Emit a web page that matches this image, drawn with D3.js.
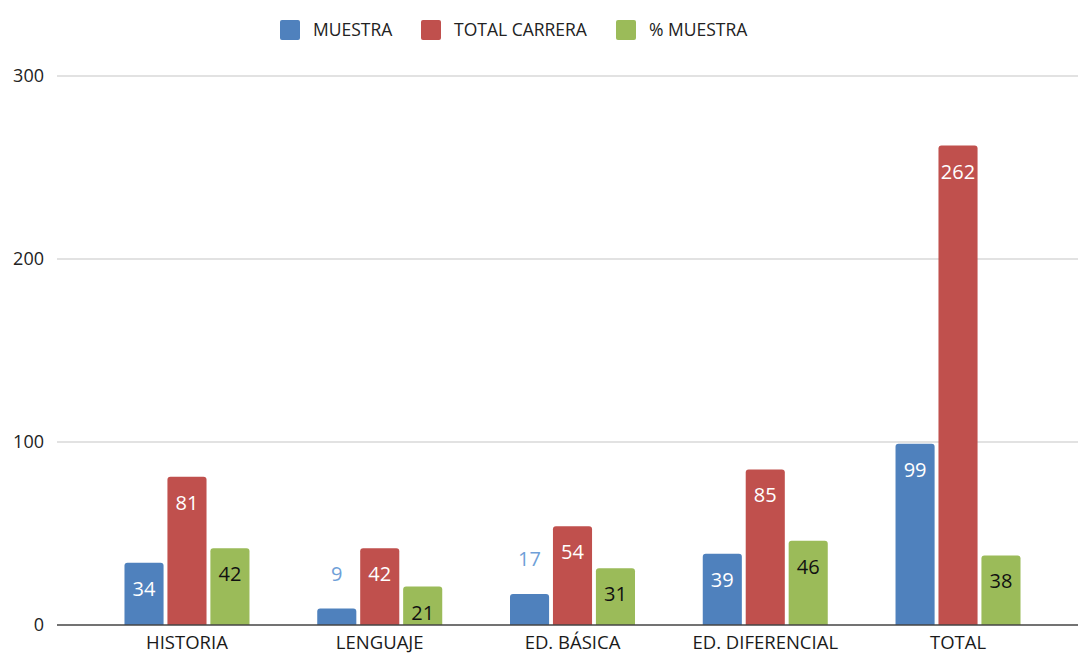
<!DOCTYPE html>
<html><head><meta charset="utf-8">
<script src="https://cdn.jsdelivr.net/npm/d3@7"></script>
<style>body{margin:0;background:#fff;}svg{display:block;font-family:"Open Sans",sans-serif;}</style>
</head><body><svg id="c" width="1078" height="655"></svg>
<script>
const categories = ["HISTORIA","LENGUAJE","ED. BÁSICA","ED. DIFERENCIAL","TOTAL"];
const seriesNames = ["MUESTRA","TOTAL CARRERA","% MUESTRA"];
const muestra = [34, 9, 17, 39, 99];
const totalCarrera = [81, 42, 54, 85, 262];
const pctMuestra = [42, 21, 31, 46, 38];
const yTicks = [0, 100, 200, 300];
const colors = ["#4f81bd", "#c0504d", "#9bbb59"];
const labelColors = ["#ffffff", "#ffffff", "#111111"];

const series = [muestra, totalCarrera, pctMuestra];
const svg = d3.select("#c");
const y = d3.scaleLinear().domain([0, 300]).range([625, 76]);
const x0 = d3.scaleBand().domain(categories).range([90.6, 1054.4]).padding(0);
const groupW = 125;
const x1 = d3.scaleBand().domain(d3.range(3))
  .range([(x0.step() - groupW) / 2, (x0.step() + groupW) / 2]).paddingInner(0.09);

// gridlines
const g = svg.append("g");
g.selectAll("line.grid").data(yTicks.filter(d => d > 0)).join("line")
  .attr("x1", 57).attr("x2", 1078)
  .attr("y1", d => y(d)).attr("y2", d => y(d))
  .attr("stroke", "#d9d9d9").attr("stroke-width", 1.5);
g.selectAll("text.yt").data(yTicks).join("text")
  .attr("x", 44).attr("y", d => y(d)).attr("dy", "0.35em")
  .attr("text-anchor", "end").attr("font-size", 18).attr("fill", "#222")
  .text(d => d);

// bars
const radius = 3;
function barPath(x, yTop, w, yBot) {
  const r = Math.min(radius, (yBot - yTop));
  return `M${x},${yBot}V${yTop + r}Q${x},${yTop} ${x + r},${yTop}H${x + w - r}Q${x + w},${yTop} ${x + w},${yTop + r}V${yBot}Z`;
}
const data = [];
categories.forEach((c, i) => series.forEach((s, j) => data.push({c, j, v: s[i]})));
svg.append("g").selectAll("path").data(data).join("path")
  .attr("d", d => barPath(x0(d.c) + x1(d.j), y(d.v), x1.bandwidth(), y(0)))
  .attr("fill", d => colors[d.j]);

// value labels
const inside = d => (y(0) - y(d.v)) >= 35;
svg.append("g").selectAll("text").data(data).join("text")
  .attr("x", d => x0(d.c) + x1(d.j) + x1.bandwidth() / 2)
  .attr("y", d => inside(d) ? y(d.v) + 26 : y(d.v) - 35)
  .attr("dy", "0.35em")
  .attr("text-anchor", "middle").attr("font-size", 20)
  .attr("fill", d => inside(d) ? labelColors[d.j] : "#6f9fd8")
  .text(d => d.v);

// axis baseline
svg.append("line").attr("x1", 57).attr("x2", 1078).attr("y1", y(0)).attr("y2", y(0))
  .attr("stroke", "#444").attr("stroke-width", 1.5);

// x labels
svg.append("g").selectAll("text").data(categories).join("text")
  .attr("x", d => x0(d) + x0.bandwidth() / 2).attr("y", 649)
  .attr("text-anchor", "middle").attr("font-size", 18.5).attr("fill", "#1a1a1a")
  .text(d => d);

// legend
const legendX = [280, 421, 616];
const lg = svg.append("g");
seriesNames.forEach((n, i) => {
  lg.append("rect").attr("x", legendX[i]).attr("y", 20).attr("width", 20).attr("height", 20)
    .attr("rx", 2).attr("fill", colors[i]);
  lg.append("text").attr("x", legendX[i] + 33).attr("y", 30).attr("dy", "0.35em")
    .attr("font-size", 17.5).attr("fill", "#222").text(n);
});
</script></body></html>
